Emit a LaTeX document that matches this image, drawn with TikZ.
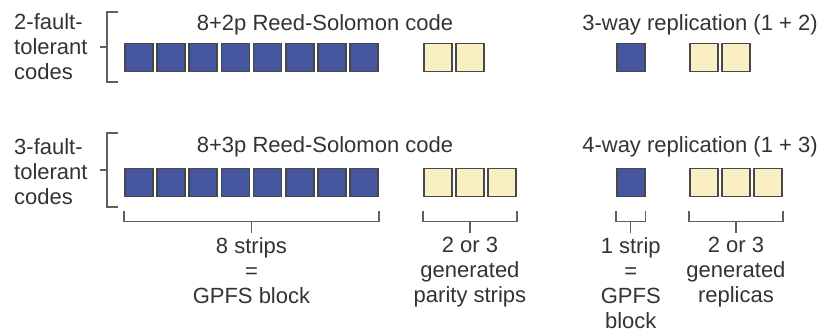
\documentclass[tikz,border=0pt]{standalone}
\usepackage{fontspec}
\setmainfont{Liberation Sans}
\usetikzlibrary{calc}

\definecolor{datablue}{RGB}{70,86,158}
\definecolor{parityyellow}{RGB}{248,240,194}
\definecolor{boxedge}{RGB}{72,72,72}
\definecolor{bracketgray}{RGB}{95,95,95}
\definecolor{labelgray}{RGB}{51,51,51}

\tikzset{
    strip/.style={draw=boxedge, line width=1.5pt, minimum size=28pt, inner sep=0pt},
    data/.style={strip, fill=datablue},
    parity/.style={strip, fill=parityyellow},
    bracket/.style={draw=bracketgray, line width=1.4pt},
    label/.style={font=\fontsize{22}{25}\selectfont, text=labelgray, inner sep=0pt},
}

\begin{document}
\begin{tikzpicture}[x=1pt, y=-1pt]
    \useasboundingbox (0,0) rectangle (822,335);

    % 2-fault-tolerant codes
    \node[label, anchor=west, align=left] (T1) at (14,47) {2-fault-\\tolerant\\codes};
    \node[label] (RS1) at (325,25) {8+2p Reed-Solomon code};
    \node[label] (RP1) at (700,25) {3-way replication (1 + 2)};
    \foreach \i in {1,...,8}
        \node[data] (A\i) at ({106.55+32.2*\i},57.5) {};
    \foreach \i in {1,2}
        \node[parity] (B\i) at ({405.55+32.2*\i},57.5) {};
    \node[data] (C1) at (630.75,57.5) {};
    \foreach \i in {1,2}
        \node[parity] (D\i) at ({671.55+32.2*\i},57.5) {};

    \coordinate (K1) at (107,47);
    \draw[bracket] (118,12) -- (107,12) -- (107,82) -- (118,82);
    \draw[bracket] (K1) -- ++(-7,0);

    % 3-fault-tolerant codes
    \node[label, anchor=west, align=left] (T2) at (14,172) {3-fault-\\tolerant\\codes};
    \node[label] (RS2) at (325,147) {8+3p Reed-Solomon code};
    \node[label] (RP2) at (700,147) {4-way replication (1 + 3)};
    \foreach \i in {1,...,8}
        \node[data] (E\i) at ({106.55+32.2*\i},182.5) {};
    \foreach \i in {1,2,3}
        \node[parity] (F\i) at ({405.55+32.2*\i},182.5) {};
    \node[data] (G1) at (630.75,182.5) {};
    \foreach \i in {1,2,3}
        \node[parity] (H\i) at ({671.55+32.2*\i},182.5) {};

    \coordinate (K2) at (107,170);
    \draw[bracket] (118,133) -- (107,133) -- (107,207) -- (118,207);
    \draw[bracket] (K2) -- ++(-7,0);

    % braces and labels
    \node[label, align=center, anchor=north] (L1) at ($(E1.south west)!0.5!(E8.south east)+(0,40)$) {8 strips\\=\\GPFS block};
    \node[label, align=center, anchor=north] (L2) at ($(F1.south west)!0.5!(F3.south east)+(0,40)$) {2 or 3\\generated\\parity strips};
    \node[label, align=center, anchor=north] (L3) at ($(G1.south)+(0,40)$) {1 strip\\=\\GPFS\\block};
    \node[label, align=center, anchor=north] (L4) at ($(H1.south west)!0.5!(H3.south east)+(0,40)$) {2 or 3\\generated\\replicas};

    \draw[bracket] ($(E1.south west)+(0,14)$) -- ++(0,10) -| ($(E8.south east)+(0,14)$);
    \draw[bracket] ($(E1.south west)!0.5!(E8.south east)+(0,24)$) -- ([yshift=4pt]L1.north);
    \draw[bracket] ($(F1.south west)+(0,14)$) -- ++(0,10) -| ($(F3.south east)+(0,14)$);
    \draw[bracket] ($(F1.south west)!0.5!(F3.south east)+(0,24)$) -- ([yshift=4pt]L2.north);
    \draw[bracket] ($(G1.south west)+(0,14)$) -- ++(0,10) -| ($(G1.south east)+(0,14)$);
    \draw[bracket] ($(G1.south)+(0,24)$) -- ([yshift=4pt]L3.north);
    \draw[bracket] ($(H1.south west)+(0,14)$) -- ++(0,10) -| ($(H3.south east)+(0,14)$);
    \draw[bracket] ($(H1.south west)!0.5!(H3.south east)+(0,24)$) -- ([yshift=4pt]L4.north);
\end{tikzpicture}
\end{document}
